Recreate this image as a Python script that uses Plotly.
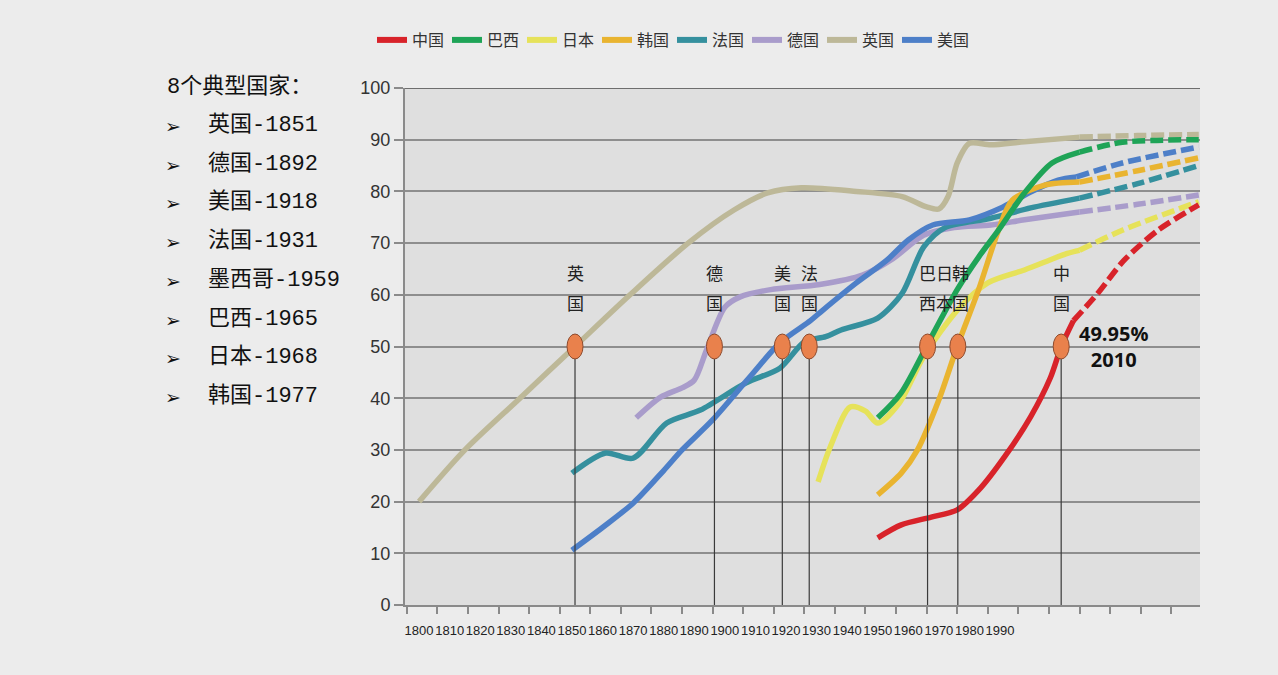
import plotly.graph_objects as go

# ---------------- data ----------------
countries = ["中国", "巴西", "日本", "韩国", "法国", "德国", "英国", "美国"]
colors = {"中国": "#d8232a", "巴西": "#1fa457", "日本": "#e6e25a", "韩国": "#e9b430",
          "法国": "#35909e", "德国": "#a99ccb", "英国": "#bdb898", "美国": "#4d7fc8"}

# solid (historical) parts
china_years = [1950, 1957.7, 1967.5, 1976, 1983, 1991.4, 2000, 2006.5, 2010, 2014]
china_vals = [13, 15.5, 17, 18.4, 22.2, 28.6, 36.4, 44, 49.95, 55]
brazil_years = [1950, 1957.6, 1967.5, 1976, 1983, 1989.5, 1998, 2007, 2016]
brazil_vals = [36.2, 41, 51.8, 61, 67.3, 72.5, 79.7, 85.5, 87.6]
japan_years = [1930.5, 1934.5, 1941, 1946, 1950, 1957, 1965, 1976, 1986, 1998, 2012, 2016]
japan_vals = [23.8, 30.6, 38.3, 37.5, 35.2, 39, 48, 57, 62.3, 64.8, 68, 68.6]
korea_years = [1950, 1957.7, 1963, 1970, 1976, 1983, 1989.5, 1994, 2004.6, 2016]
korea_vals = [21.3, 25.5, 30, 39.7, 50, 61, 72.5, 78.3, 81.2, 81.8]
france_years = [1850, 1861, 1870, 1881, 1892, 1907, 1918, 1926, 1933, 1938, 1950, 1958, 1965, 1972, 1987, 2000, 2016]
france_vals = [25.5, 29.4, 28.4, 35.2, 37.7, 43, 45.8, 50.9, 51.9, 53.2, 55.5, 60.3, 69.2, 73, 74.8, 76.8, 78.7]
germany_years = [1871, 1879, 1886, 1890, 1894, 1900, 1905, 1915, 1931, 1945, 1955, 1965, 1975, 1987, 1998, 2016]
germany_vals = [36.2, 40.2, 42, 43.5, 49.3, 57.6, 59.6, 61, 62, 63.8, 67, 71.5, 73, 73.5, 74.5, 76]
uk_years = [1800, 1815, 1833, 1851, 1869, 1888, 1903, 1914, 1925, 1943, 1958, 1966, 1970, 1973, 1976, 1980, 1987, 1998, 2016]
uk_vals = [20, 30, 40, 50, 60, 70, 76.4, 79.7, 80.7, 80, 79, 77, 76.6, 79, 85.5, 89.3, 89, 89.6, 90.5]
usa_years = [1850, 1860, 1870, 1880, 1886, 1896, 1908, 1918, 1928, 1932, 1943, 1953, 1960, 1968, 1980, 1991, 2000, 2009, 2015]
usa_vals = [10.6, 15, 19.7, 26, 30, 35.8, 44, 50.7, 55, 57, 62.3, 66.7, 70.6, 73.5, 74.5, 77, 79.9, 82.2, 82.8]

# dashed (projection) parts
china_proj_years = [2014, 2022, 2030.6, 2041.7, 2055]
china_proj_vals = [55, 60.3, 66.7, 72.5, 77.4]
brazil_proj_years = [2016, 2030, 2055]
brazil_proj_vals = [87.6, 89.5, 90]
japan_proj_years = [2016, 2030, 2055]
japan_proj_vals = [68.6, 72.5, 78]
korea_proj_years = [2016, 2035, 2055]
korea_proj_vals = [81.8, 84, 86.5]
france_proj_years = [2016, 2035, 2055]
france_proj_vals = [78.7, 81.5, 85]
germany_proj_years = [2016, 2035, 2055]
germany_proj_vals = [76, 77.5, 79.3]
uk_proj_years = [2016, 2035, 2055]
uk_proj_vals = [90.5, 90.8, 91]
usa_proj_years = [2015, 2030, 2055]
usa_proj_vals = [82.8, 85.5, 88.6]

series = {
    "中国": (china_years, china_vals, china_proj_years, china_proj_vals),
    "巴西": (brazil_years, brazil_vals, brazil_proj_years, brazil_proj_vals),
    "日本": (japan_years, japan_vals, japan_proj_years, japan_proj_vals),
    "韩国": (korea_years, korea_vals, korea_proj_years, korea_proj_vals),
    "法国": (france_years, france_vals, france_proj_years, france_proj_vals),
    "德国": (germany_years, germany_vals, germany_proj_years, germany_proj_vals),
    "英国": (uk_years, uk_vals, uk_proj_years, uk_proj_vals),
    "美国": (usa_years, usa_vals, usa_proj_years, usa_proj_vals),
}
draw_order = ["英国", "德国", "法国", "美国", "日本", "韩国", "巴西", "中国"]

# 50% milestones
milestone_years = [1851, 1896.6, 1918.8, 1927.6, 1966.3, 1976.2, 2010]
milestone_level = 50
label_cols = [(1851, "英", "国"), (1896.6, "德", "国"), (1918.8, "美", "国"), (1927.6, "法", "国"),
              (1966.4, "巴", "西"), (1971.7, "日", "本"), (1977, "韩", "国"), (2010, "中", "国")]

x_tick_years = list(range(1800, 2000, 10))
y_ticks = list(range(0, 101, 10))

side_title = "8个典型国家："
side_items = ["英国-1851", "德国-1892", "美国-1918", "法国-1931", "墨西哥-1959", "巴西-1965", "日本-1968", "韩国-1977"]

china_note = "49.95%<br>2010"

# ---------------- layout helpers ----------------
L, R, T, B = 405, 1200, 88, 605
def px_x(p):
    return (p - L) / (R - L)
def px_y(p):
    return (B - p) / (B - T)

fig = go.Figure()

# legend-order dummy traces first (to control legend order)
for c in countries:
    fig.add_trace(go.Scatter(x=[None], y=[None], mode="lines", name=c,
                             line=dict(color=colors[c], width=6), legendgroup=c, showlegend=True,
                             hoverinfo="skip"))

for c in draw_order:
    ys, vs, pys, pvs = series[c]
    fig.add_trace(go.Scatter(x=pys, y=pvs, mode="lines", line=dict(color=colors[c], width=5.5,
                             dash="13px,5px", shape="spline", smoothing=0.8),
                             legendgroup=c, showlegend=False, hoverinfo="skip"))
    fig.add_trace(go.Scatter(x=ys, y=vs, mode="lines", line=dict(color=colors[c], width=5.5,
                             shape="spline", smoothing=0.8),
                             legendgroup=c, showlegend=False))

# vertical milestone lines
for yr in milestone_years:
    fig.add_trace(go.Scatter(x=[yr, yr], y=[0, milestone_level], mode="lines",
                             line=dict(color="#3a3a3a", width=1.2), showlegend=False, hoverinfo="skip"))

shapes = []
half_w = 8 / 3.057
half_h = 12.5 / 5.17
for yr in milestone_years:
    shapes.append(dict(type="circle", xref="x", yref="y",
                       x0=yr - half_w, x1=yr + half_w,
                       y0=milestone_level - half_h, y1=milestone_level + half_h,
                       fillcolor="#e9814c", line=dict(color="#8e4a2c", width=1), layer="above"))
# top border
shapes.append(dict(type="line", xref="paper", yref="y", x0=0, x1=1, y0=100, y1=100,
                   line=dict(color="#6e6e6e", width=2), layer="below"))

annotations = []
for yr, top, bot in label_cols:
    annotations.append(dict(x=yr, y=64.4, xref="x", yref="y", text=top, showarrow=False,
                            xanchor="center", yanchor="middle",
                            font=dict(size=17, color="#222", family="Noto Sans CJK SC")))
    annotations.append(dict(x=yr, y=58.6, xref="x", yref="y", text=bot, showarrow=False,
                            xanchor="center", yanchor="middle",
                            font=dict(size=17, color="#222", family="Noto Sans CJK SC")))
annotations.append(dict(x=px_x(1113), y=px_y(346), xref="paper", yref="paper", text=china_note,
                        showarrow=False, align="center", xanchor="center", yanchor="middle",
                        font=dict(size=20, color="#111", family="Open Sans", weight="bold")))

annotations.append(dict(x=px_x(165), y=px_y(87), xref="paper", yref="paper", xanchor="left",
                        yanchor="middle", text=side_title, showarrow=False,
                        font=dict(size=22, color="#111", family="Liberation Mono, Noto Sans CJK SC")))
item_y = [125, 164, 202, 241, 280, 319, 357, 396]
for t, py in zip(side_items, item_y):
    annotations.append(dict(x=px_x(163), y=px_y(py + 1), xref="paper", yref="paper", xanchor="left",
                            yanchor="middle", text="➢", showarrow=False,
                            font=dict(size=19, color="#111", family="DejaVu Sans")))
    annotations.append(dict(x=px_x(206), y=px_y(py), xref="paper", yref="paper", xanchor="left",
                            yanchor="middle", text=t, showarrow=False,
                            font=dict(size=22, color="#111", family="Liberation Mono, Noto Sans CJK SC")))

fig.update_layout(
    width=1278, height=675,
    margin=dict(l=L, r=1278 - R, t=T, b=675 - B),
    paper_bgcolor="#ececec", plot_bgcolor="#dfdfdf",
    showlegend=True,
    legend=dict(orientation="h", x=px_x(372), y=px_y(40), xanchor="left", yanchor="middle",
                entrywidth=30, entrywidthmode="pixels", bgcolor="rgba(0,0,0,0)",
                font=dict(size=16, color="#333", family="Noto Sans CJK SC"),
                itemclick=False, itemdoubleclick=False, tracegroupgap=0),
    shapes=shapes, annotations=annotations,
    xaxis=dict(range=[1795.4, 2055.4], tickmode="array", tickvals=x_tick_years,
               ticktext=[str(v) for v in x_tick_years], ticks="", showgrid=False, zeroline=False,
               showline=True, linecolor="#8a8a8a", linewidth=2, tickangle=0, ticklabelstandoff=12,
               tickfont=dict(size=13, color="#222", family="Liberation Sans Narrow, Arial Narrow, Liberation Sans, sans-serif"),
               minor=dict(tick0=1806, dtick=10, ticks="outside", ticklen=7, tickcolor="#8a8a8a",
                          tickwidth=1.5, showgrid=False)),
    yaxis=dict(range=[0, 100], tickvals=y_ticks, ticks="outside", ticklen=9, tickcolor="#8a8a8a",
               tickwidth=1.5, showgrid=True, gridcolor="#8e8e8e", gridwidth=2, zeroline=False,
               showline=True, linecolor="#8a8a8a", linewidth=2,
               tickfont=dict(size=18, color="#333", family="Liberation Sans Narrow, Arial Narrow, Liberation Sans, sans-serif")),
)

fig.write_html("out.html")
